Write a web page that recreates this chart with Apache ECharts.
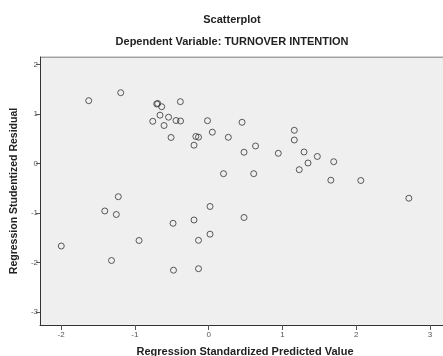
<!DOCTYPE html>
<html><head><meta charset="utf-8">
<script src="https://cdn.jsdelivr.net/npm/echarts@6/dist/echarts.min.js"></script>
<style>html,body{margin:0;padding:0;background:#fff}#c{width:443px;height:356px}</style>
</head><body><div id="c"></div>
<script>
const title = "Scatterplot";
const subtitle = "Dependent Variable: TURNOVER INTENTION";
const xName = "Regression Standardized Predicted Value";
const yName = "Regression Studentized Residual";
const xTicks = [-2, -1, 0, 1, 2, 3];
const yTicks = [-3, -2, -1, 0, 1, 2];
const predicted = [-1.625,-1.191,-0.703,-0.690,-0.636,-0.659,-0.543,-0.757,-0.604,-0.509,-0.442,-0.381,-0.383,-0.015,0.453,0.050,-0.173,-0.137,-0.198,0.267,0.636,0.480,0.944,1.161,1.161,1.293,1.347,1.473,1.695,1.228,0.202,0.611,1.656,2.062,2.713,-1.224,-1.407,-1.251,-0.482,-0.943,-1.997,-1.316,-0.476,0.019,-0.198,0.480,0.019,-0.137,-0.137];
const residual = [1.272,1.433,1.205,1.215,1.150,0.979,0.938,0.855,0.770,0.528,0.871,0.861,1.252,0.867,0.835,0.635,0.548,0.534,0.372,0.532,0.356,0.230,0.208,0.673,0.477,0.235,0.012,0.144,0.038,-0.123,-0.204,-0.204,-0.336,-0.342,-0.700,-0.669,-0.958,-1.029,-1.207,-1.555,-1.666,-1.959,-2.155,-0.867,-1.140,-1.090,-1.427,-1.551,-2.125];

const pts = predicted.map((x, i) => [x, residual[i]]);
const chart = echarts.init(document.getElementById('c'));
const font = 'Liberation Sans, Arial, sans-serif';
chart.setOption({
  animation: false,
  backgroundColor: '#fff',
  title: [
    {text: title, left: 227, top: 8, textAlign: 'center', textStyle: {fontFamily: font, fontSize: 11, fontWeight: 'bold', color: '#222', lineHeight: 13}},
    {text: subtitle, left: 227, top: 30, textAlign: 'center', textStyle: {fontFamily: font, fontSize: 11, fontWeight: 'bold', color: '#222', lineHeight: 13}}
  ],
  grid: {left: 40, top: 57, right: 0, bottom: 31, containLabel: false, outerBoundsMode: 'none', show: true, backgroundColor: '#efefef', borderColor: '#666', borderWidth: 0},
  xAxis: {
    type: 'value', min: -2.285, max: 3.176,
    name: xName, nameLocation: 'middle', nameGap: 21,
    nameTextStyle: {fontFamily: font, fontSize: 11, fontWeight: 'bold', color: '#222', padding: [0, 0, 0, 7]},
    axisLine: {show: true, onZero: false, lineStyle: {color: '#333', width: 1}},
    axisTick: {show: true, length: 5, lineStyle: {color: '#555'}, customValues: xTicks},
    axisLabel: {fontFamily: font, fontSize: 8, color: '#555', margin: 6, customValues: xTicks},
    splitLine: {show: false}
  },
  yAxis: {
    type: 'value', min: -3.263, max: 2.155,
    name: yName, nameLocation: 'middle', nameGap: 19, nameRotate: 90,
    nameTextStyle: {fontFamily: font, fontSize: 10.5, fontWeight: 'bold', color: '#222'},
    axisLine: {show: true, onZero: false, lineStyle: {color: '#333', width: 1}},
    axisTick: {show: true, length: 4, lineStyle: {color: '#555'}, customValues: yTicks},
    axisLabel: {fontFamily: font, fontSize: 8, color: '#555', margin: 2, customValues: yTicks},
    splitLine: {show: false}
  },
  series: [{
    type: 'scatter', data: pts, symbol: 'circle', symbolSize: 6,
    itemStyle: {color: 'rgba(0,0,0,0)', borderColor: '#333', borderWidth: 1}
  }, {
    type: 'line', data: [[-2.285, 2.155], [3.176, 2.155]], symbol: 'none', silent: true,
    lineStyle: {color: '#555', width: 1}
  }]
});
</script></body></html>
